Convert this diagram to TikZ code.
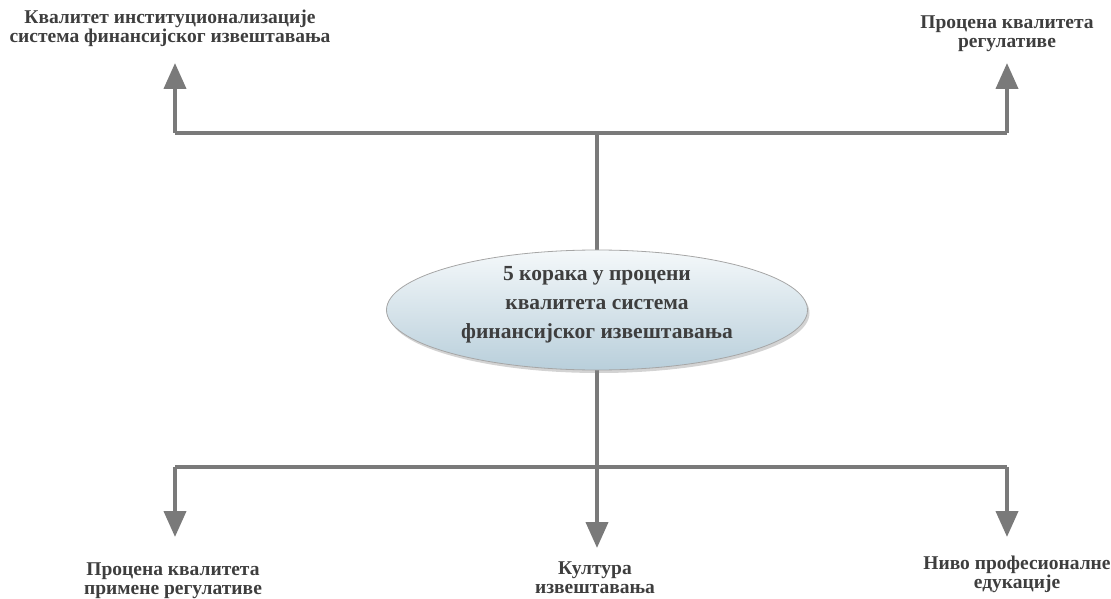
\documentclass[tikz,border=0pt]{standalone}
\usepackage{fontspec}
\setmainfont{Liberation Serif}
\usetikzlibrary{arrows.meta,shapes.geometric,shadows}
\definecolor{linegray}{HTML}{7A7A7A}
\definecolor{textgray}{HTML}{3E3E3E}
\definecolor{elltop}{HTML}{F4F8FA}
\definecolor{ellbot}{HTML}{B9CFDB}
\begin{document}
\begin{tikzpicture}[x=1pt,y=-1pt,
  label/.style={align=center,text=textgray,font=\bfseries\fontsize{19.5}{19}\selectfont,inner sep=0pt},
  connector/.style={draw=linegray,line width=4pt,line join=round},
  tip/.style={-{Triangle[length=26pt,width=22pt]}},
  hub/.style={ellipse,minimum width=421pt,minimum height=120pt,draw=gray!70,line width=0.8pt,
    top color=elltop,bottom color=ellbot,
    drop shadow={shadow xshift=2pt,shadow yshift=-3pt,opacity=0.35}},
  hubtext/.style={align=center,text=textgray,inner sep=0pt,
    font=\bfseries\fontsize{21.5}{29}\selectfont}]
\useasboundingbox (0,0) rectangle (1111,599);
% junction points of the two branch bars
\coordinate (tl) at (175,133);
\coordinate (tm) at (597,133);
\coordinate (tr) at (1007,133);
\coordinate (bl) at (175,467);
\coordinate (bm) at (597,467);
\coordinate (br) at (1007,467);
% arrow ends
\coordinate (tlEnd) at (175,63);
\coordinate (trEnd) at (1007,63);
\coordinate (blEnd) at (175,537);
\coordinate (bmEnd) at (597,548);
\coordinate (brEnd) at (1007,537);
% labels
\node[label] (q1) at (170,28) {Квалитет институционализације\\система финансијског извештавања};
\node[label] (q2) at (1007,34) {Процена квалитета\\регулативе};
\node[label] (q3) at (173,581) {Процена квалитета\\примене регулативе};
\node[label] (q4) at (595,578) {Култура\\извештавања};
\node[label] (q5) at (1017,574) {Ниво професионалне\\едукације};
% connectors
\draw[connector] (tm) -- (bm);
\draw[connector,tip] (tl) -- (tlEnd);
\draw[connector] (tl) -- (tr);
\draw[connector,tip] (tr) -- (trEnd);
\draw[connector] (bl) -- (br);
\draw[connector,tip] (bl) -- (blEnd);
\draw[connector,tip] (bm) -- (bmEnd);
\draw[connector,tip] (br) -- (brEnd);
% central node and its caption
\node[hub] (c) at (597,310) {};
\node[hubtext] (ct) at (597,305) {5 корака у процени\\квалитета система\\финансијског извештавања};
\end{tikzpicture}
\end{document}
